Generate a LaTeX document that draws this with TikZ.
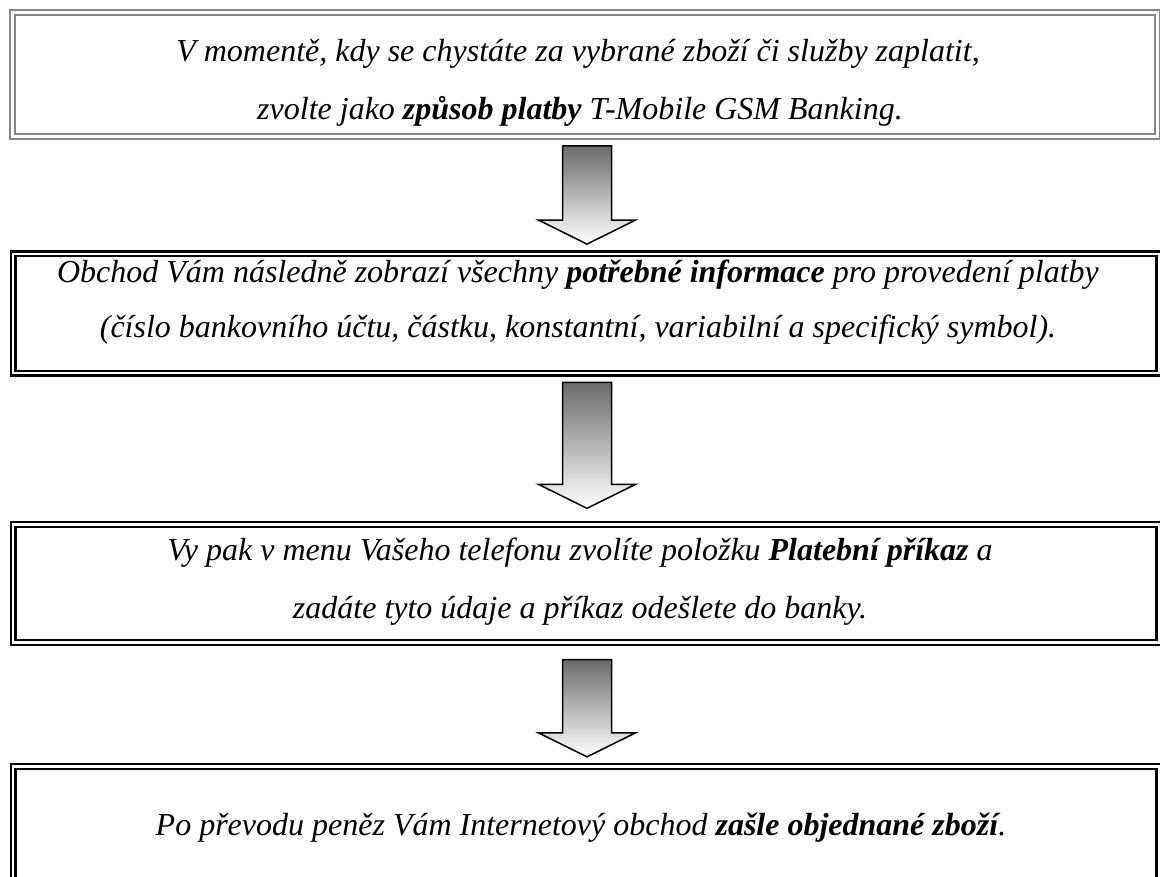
\documentclass[tikz,border=0pt]{standalone}
\usepackage{fontspec}
\setmainfont{Liberation Serif}
\usetikzlibrary{calc}
\tikzset{
  greybox/.style={draw=black!48, line width=2pt, double=white, double distance=3pt, inner sep=0pt},
  blackbox/.style={draw=black, line width=2.3pt, double=white, double distance=2.3pt, inner sep=0pt},
  txt/.style={anchor=base, inner sep=0pt, font=\fontsize{32}{38}\selectfont\itshape},
  fatarrow/.style={draw=black, line width=1.5pt, line join=miter, top color=black!58, bottom color=white}
}
\newcommand\blockarr[2]{%
  \path[fatarrow] ($(#1)+(-24.5,0)$) -- ($(#1)+(24.5,0)$) -- ($(#2)+(24.5,-24)$) -- ($(#2)+(48.5,-24)$) -- (#2)
    -- ($(#2)+(-48.5,-24)$) -- ($(#2)+(-24.5,-24)$) -- cycle;}
\begin{document}
\begin{tikzpicture}[x=1pt,y=-1pt]
\useasboundingbox (0,0) rectangle (1160,877);
\clip (0,0) rectangle (1160,877);
\fill[white] (0,0) rectangle (1160,877);
% boxes
\node[greybox, minimum width=1144.5pt, minimum height=124pt] (b1) at (585,74.5) {};
\node[blackbox, minimum width=1145.5pt, minimum height=119.5pt] (b2) at (586,313.5) {};
\node[blackbox, minimum width=1145.5pt, minimum height=118pt] (b3) at (586,583.5) {};
\node[blackbox, minimum width=1145.5pt, minimum height=160pt] (b4) at (586,846.5) {};
% texts
\node[txt] (t1a) at (578,62) {V momentě, kdy se chystáte za vybrané zboží či služby zaplatit,};
\node[txt] (t1b) at (580,120) {zvolte jako \textbf{způsob platby} T-Mobile GSM Banking.};
\node[txt] (t2a) at (578,283) {Obchod Vám následně zobrazí všechny \textbf{potřebné informace} pro provedení platby};
\node[txt] (t2b) at (578,338) {(číslo bankovního účtu, částku, konstantní, variabilní a specifický symbol).};
\node[txt] (t3a) at (580,560) {Vy pak v menu Vašeho telefonu zvolíte položku \textbf{Platební příkaz} a};
\node[txt] (t3b) at (580,618) {zadáte tyto údaje a příkaz odešlete do banky.};
\node[txt] (t4a) at (581,835) {Po převodu peněz Vám Internetový obchod \textbf{zašle objednané zboží}.};
% arrows
\coordinate (a1s) at ($(b1.south)+(2,8.5)$);
\coordinate (a1e) at ($(b2.north)+(1,-8.5)$);
\coordinate (a2s) at ($(b2.south)+(1,8)$);
\coordinate (a2e) at ($(b3.north)+(1,-15)$);
\coordinate (a3s) at ($(b3.south)+(1,16)$);
\coordinate (a3e) at ($(b4.north)+(1,-8.5)$);
\blockarr{a1s}{a1e}
\blockarr{a2s}{a2e}
\blockarr{a3s}{a3e}
\end{tikzpicture}
\end{document}
